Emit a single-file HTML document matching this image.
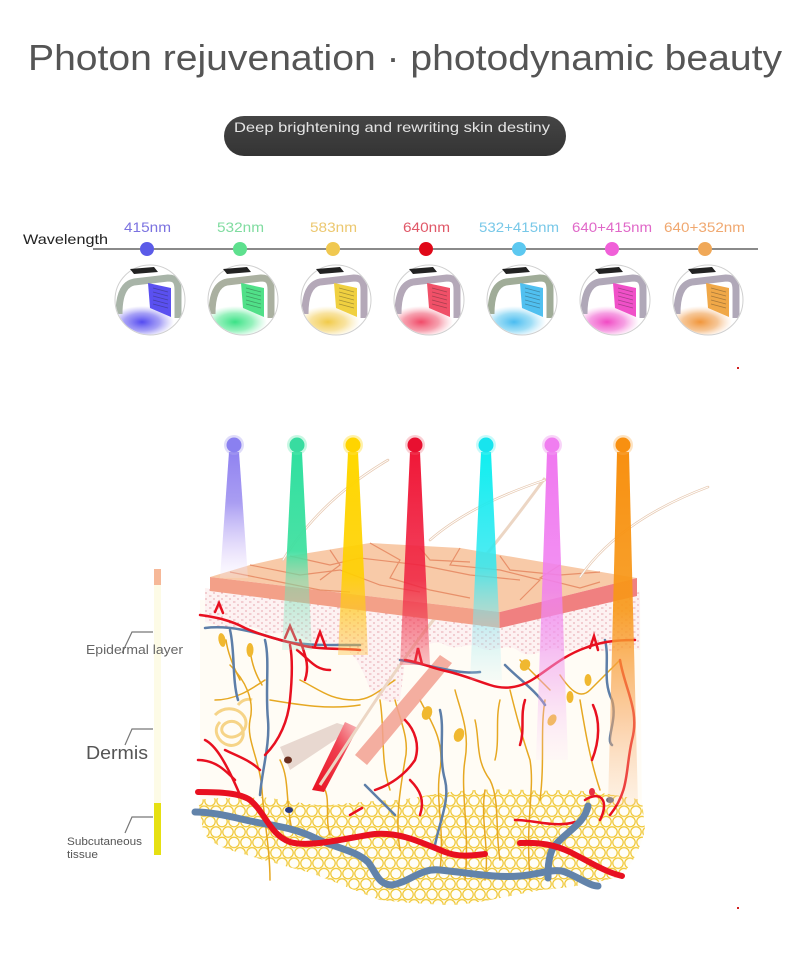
<!DOCTYPE html>
<html><head><meta charset="utf-8"><style>
html,body{margin:0;padding:0;background:#fff;}
svg{display:block;}
text{font-family:"Liberation Sans","DejaVu Sans",sans-serif;}
</style></head><body>
<svg width="790" height="973" viewBox="0 0 790 973" xmlns="http://www.w3.org/2000/svg">
<defs>
<clipPath id="cc" clipPathUnits="userSpaceOnUse"><circle cx="0" cy="0" r="34.5"/></clipPath>
<linearGradient id="pill" x1="0" y1="0" x2="0" y2="1"><stop offset="0" stop-color="#454545"/><stop offset="1" stop-color="#343434"/></linearGradient>
<radialGradient id="gB"><stop offset="0" stop-color="#4a40f0" stop-opacity=".95"/><stop offset=".55" stop-color="#6a60f0" stop-opacity=".6"/><stop offset="1" stop-color="#8a80f0" stop-opacity="0"/></radialGradient>
<radialGradient id="gG"><stop offset="0" stop-color="#30e080" stop-opacity=".95"/><stop offset=".55" stop-color="#50e890" stop-opacity=".6"/><stop offset="1" stop-color="#80f0b0" stop-opacity="0"/></radialGradient>
<radialGradient id="gY"><stop offset="0" stop-color="#f0c840" stop-opacity=".95"/><stop offset=".55" stop-color="#f4d060" stop-opacity=".6"/><stop offset="1" stop-color="#f8e090" stop-opacity="0"/></radialGradient>
<radialGradient id="gR"><stop offset="0" stop-color="#f04060" stop-opacity=".95"/><stop offset=".55" stop-color="#f06078" stop-opacity=".6"/><stop offset="1" stop-color="#f890a0" stop-opacity="0"/></radialGradient>
<radialGradient id="gC"><stop offset="0" stop-color="#40b8f0" stop-opacity=".95"/><stop offset=".55" stop-color="#60c8f0" stop-opacity=".6"/><stop offset="1" stop-color="#90d8f8" stop-opacity="0"/></radialGradient>
<radialGradient id="gP"><stop offset="0" stop-color="#f040c0" stop-opacity=".95"/><stop offset=".55" stop-color="#f060d0" stop-opacity=".6"/><stop offset="1" stop-color="#f890e0" stop-opacity="0"/></radialGradient>
<radialGradient id="gO"><stop offset="0" stop-color="#f09030" stop-opacity=".95"/><stop offset=".55" stop-color="#f0a050" stop-opacity=".6"/><stop offset="1" stop-color="#f8c090" stop-opacity="0"/></radialGradient>

<linearGradient id="b1" x1="0" y1="0" x2="0" y2="1"><stop offset="0" stop-color="#8a7cf0" stop-opacity=".95"/><stop offset=".4" stop-color="#9a8cf0" stop-opacity=".85"/><stop offset=".8" stop-color="#e0d4fa" stop-opacity=".6"/><stop offset="1" stop-color="#f0e8fc" stop-opacity=".2"/></linearGradient>
<linearGradient id="b2" x1="0" y1="0" x2="0" y2="1"><stop offset="0" stop-color="#30e0a0"/><stop offset=".5" stop-color="#40e0a0" stop-opacity=".95"/><stop offset=".65" stop-color="#70e0b0" stop-opacity=".55"/><stop offset="1" stop-color="#a0e8d0" stop-opacity=".25"/></linearGradient>
<linearGradient id="b3" x1="0" y1="0" x2="0" y2="1"><stop offset="0" stop-color="#ffd800"/><stop offset=".6" stop-color="#ffd000" stop-opacity=".9"/><stop offset="1" stop-color="#ffc040" stop-opacity=".4"/></linearGradient>
<linearGradient id="b4" x1="0" y1="0" x2="0" y2="1"><stop offset="0" stop-color="#f01838"/><stop offset=".6" stop-color="#f02040" stop-opacity=".85"/><stop offset="1" stop-color="#f05060" stop-opacity=".35"/></linearGradient>
<linearGradient id="b5" x1="0" y1="0" x2="0" y2="1"><stop offset="0" stop-color="#10eef0"/><stop offset=".5" stop-color="#30e8f0" stop-opacity=".85"/><stop offset=".8" stop-color="#90e8f0" stop-opacity=".4"/><stop offset="1" stop-color="#c0f0f8" stop-opacity=".15"/></linearGradient>
<linearGradient id="b6" x1="0" y1="0" x2="0" y2="1"><stop offset="0" stop-color="#f078f0"/><stop offset=".45" stop-color="#f080f0" stop-opacity=".85"/><stop offset=".75" stop-color="#f0a0f0" stop-opacity=".45"/><stop offset="1" stop-color="#f8d0f8" stop-opacity=".1"/></linearGradient>
<linearGradient id="b7" x1="0" y1="0" x2="0" y2="1"><stop offset="0" stop-color="#f89010"/><stop offset=".45" stop-color="#f89818" stop-opacity=".9"/><stop offset=".75" stop-color="#f8a860" stop-opacity=".55"/><stop offset="1" stop-color="#f8c8a0" stop-opacity=".2"/></linearGradient>
<linearGradient id="root" x1="0" y1="1" x2="1" y2="0"><stop offset="0" stop-color="#e81020"/><stop offset=".6" stop-color="#f04050"/><stop offset="1" stop-color="#f8c0c0"/></linearGradient>

<pattern id="dots" width="8" height="6" patternUnits="userSpaceOnUse"><rect width="8" height="6" fill="#fdf2f2"/><path d="M1 2 h2.5 M5 5 h2" stroke="#e8a8b0" stroke-width="1"/></pattern>
<pattern id="fat" width="12" height="20.8" patternUnits="userSpaceOnUse"><rect width="12" height="20.8" fill="#fffdf0"/><g fill="#fffef8" stroke="#f0c630" stroke-width="1.2"><circle cx="0" cy="0" r="5.2"/><circle cx="12" cy="0" r="5.2"/><circle cx="6" cy="10.4" r="5.2"/><circle cx="0" cy="20.8" r="5.2"/><circle cx="12" cy="20.8" r="5.2"/></g></pattern>
</defs>

<rect width="790" height="973" fill="#fff"/>

<!-- Title -->
<text x="28" y="70" font-size="36" fill="#555" textLength="754" lengthAdjust="spacingAndGlyphs">Photon rejuvenation · photodynamic beauty</text>

<!-- pill -->
<rect x="224" y="116" width="342" height="40" rx="20" fill="url(#pill)"/>
<text x="234" y="132" font-size="14" fill="#e4e4e4" textLength="316" lengthAdjust="spacingAndGlyphs">Deep brightening and rewriting skin destiny</text>

<!-- Wavelength row -->
<text x="23" y="244" font-size="14" fill="#222" textLength="85" lengthAdjust="spacingAndGlyphs">Wavelength</text>
<line x1="93" y1="249" x2="758" y2="249" stroke="#444" stroke-width="1.2"/>
<g font-size="14">
<text x="124" y="232" fill="#7b72e0" textLength="47" lengthAdjust="spacingAndGlyphs">415nm</text>
<text x="217" y="232" fill="#80dca0" textLength="47" lengthAdjust="spacingAndGlyphs">532nm</text>
<text x="310" y="232" fill="#ecc870" textLength="47" lengthAdjust="spacingAndGlyphs">583nm</text>
<text x="403" y="232" fill="#e05868" textLength="47" lengthAdjust="spacingAndGlyphs">640nm</text>
<text x="479" y="232" fill="#78c8e8" textLength="80" lengthAdjust="spacingAndGlyphs">532+415nm</text>
<text x="572" y="232" fill="#e068c8" textLength="80" lengthAdjust="spacingAndGlyphs">640+415nm</text>
<text x="664" y="232" fill="#f0a870" textLength="81" lengthAdjust="spacingAndGlyphs">640+352nm</text>
</g>
<circle cx="147" cy="249" r="7" fill="#5b5be8"/>
<circle cx="240" cy="249" r="7" fill="#5ee08e"/>
<circle cx="333" cy="249" r="7" fill="#f0c850"/>
<circle cx="426" cy="249" r="7" fill="#e00818"/>
<circle cx="519" cy="249" r="7" fill="#5cc8f0"/>
<circle cx="612" cy="249" r="7" fill="#f060d8"/>
<circle cx="705" cy="249" r="7" fill="#f0a858"/>

<!-- devices -->
<g transform="translate(150,300)">
<circle r="35" fill="#fff" stroke="#d0d0d0"/>
<g clip-path="url(#cc)">
<ellipse cx="-8" cy="22" rx="32" ry="16" fill="url(#gB)"/>
<path d="M-31 14 C-31 -6 -26 -16 -16 -18 L18 -22 C26 -22 28 -18 28 -10 L28 18" fill="none" stroke="#a8b4a8" stroke-width="7" stroke-linejoin="round"/>
<polygon points="-2,-17 21,-12 21,17 0,8" fill="#5a50f0"/>
<path d="M3 -12 L18 -8 M3 -8 L18 -4 M3 -4 L18 0 M3 0 L18 4 M3 4 L18 8" stroke="#222" stroke-opacity=".35" stroke-width=".8"/>
</g>
<path d="M-20 -31 L4 -33 L8 -28 L-16 -26 Z" fill="#222"/>
</g>
<g transform="translate(243,300)">
<circle r="35" fill="#fff" stroke="#d0d0d0"/>
<g clip-path="url(#cc)">
<ellipse cx="-8" cy="22" rx="32" ry="16" fill="url(#gG)"/>
<path d="M-31 14 C-31 -6 -26 -16 -16 -18 L18 -22 C26 -22 28 -18 28 -10 L28 18" fill="none" stroke="#aab0a0" stroke-width="7" stroke-linejoin="round"/>
<polygon points="-2,-17 21,-12 21,17 0,8" fill="#50e088"/>
<path d="M3 -12 L18 -8 M3 -8 L18 -4 M3 -4 L18 0 M3 0 L18 4 M3 4 L18 8" stroke="#222" stroke-opacity=".35" stroke-width=".8"/>
</g>
<path d="M-20 -31 L4 -33 L8 -28 L-16 -26 Z" fill="#222"/>
</g>
<g transform="translate(336,300)">
<circle r="35" fill="#fff" stroke="#d0d0d0"/>
<g clip-path="url(#cc)">
<ellipse cx="-8" cy="22" rx="32" ry="16" fill="url(#gY)"/>
<path d="M-31 14 C-31 -6 -26 -16 -16 -18 L18 -22 C26 -22 28 -18 28 -10 L28 18" fill="none" stroke="#b4a8b8" stroke-width="7" stroke-linejoin="round"/>
<polygon points="-2,-17 21,-12 21,17 0,8" fill="#f0d040"/>
<path d="M3 -12 L18 -8 M3 -8 L18 -4 M3 -4 L18 0 M3 0 L18 4 M3 4 L18 8" stroke="#222" stroke-opacity=".35" stroke-width=".8"/>
</g>
<path d="M-20 -31 L4 -33 L8 -28 L-16 -26 Z" fill="#222"/>
</g>
<g transform="translate(429,300)">
<circle r="35" fill="#fff" stroke="#d0d0d0"/>
<g clip-path="url(#cc)">
<ellipse cx="-8" cy="22" rx="32" ry="16" fill="url(#gR)"/>
<path d="M-31 14 C-31 -6 -26 -16 -16 -18 L18 -22 C26 -22 28 -18 28 -10 L28 18" fill="none" stroke="#b4a8b8" stroke-width="7" stroke-linejoin="round"/>
<polygon points="-2,-17 21,-12 21,17 0,8" fill="#f05068"/>
<path d="M3 -12 L18 -8 M3 -8 L18 -4 M3 -4 L18 0 M3 0 L18 4 M3 4 L18 8" stroke="#222" stroke-opacity=".35" stroke-width=".8"/>
</g>
<path d="M-20 -31 L4 -33 L8 -28 L-16 -26 Z" fill="#222"/>
</g>
<g transform="translate(522,300)">
<circle r="35" fill="#fff" stroke="#d0d0d0"/>
<g clip-path="url(#cc)">
<ellipse cx="-8" cy="22" rx="32" ry="16" fill="url(#gC)"/>
<path d="M-31 14 C-31 -6 -26 -16 -16 -18 L18 -22 C26 -22 28 -18 28 -10 L28 18" fill="none" stroke="#a0ac98" stroke-width="7" stroke-linejoin="round"/>
<polygon points="-2,-17 21,-12 21,17 0,8" fill="#50c0f0"/>
<path d="M3 -12 L18 -8 M3 -8 L18 -4 M3 -4 L18 0 M3 0 L18 4 M3 4 L18 8" stroke="#222" stroke-opacity=".35" stroke-width=".8"/>
</g>
<path d="M-20 -31 L4 -33 L8 -28 L-16 -26 Z" fill="#222"/>
</g>
<g transform="translate(615,300)">
<circle r="35" fill="#fff" stroke="#d0d0d0"/>
<g clip-path="url(#cc)">
<ellipse cx="-8" cy="22" rx="32" ry="16" fill="url(#gP)"/>
<path d="M-31 14 C-31 -6 -26 -16 -16 -18 L18 -22 C26 -22 28 -18 28 -10 L28 18" fill="none" stroke="#b0a8b8" stroke-width="7" stroke-linejoin="round"/>
<polygon points="-2,-17 21,-12 21,17 0,8" fill="#f050c8"/>
<path d="M3 -12 L18 -8 M3 -8 L18 -4 M3 -4 L18 0 M3 0 L18 4 M3 4 L18 8" stroke="#222" stroke-opacity=".35" stroke-width=".8"/>
</g>
<path d="M-20 -31 L4 -33 L8 -28 L-16 -26 Z" fill="#222"/>
</g>
<g transform="translate(708,300)">
<circle r="35" fill="#fff" stroke="#d0d0d0"/>
<g clip-path="url(#cc)">
<ellipse cx="-8" cy="22" rx="32" ry="16" fill="url(#gO)"/>
<path d="M-31 14 C-31 -6 -26 -16 -16 -18 L18 -22 C26 -22 28 -18 28 -10 L28 18" fill="none" stroke="#b0a8b8" stroke-width="7" stroke-linejoin="round"/>
<polygon points="-2,-17 21,-12 21,17 0,8" fill="#f0a848"/>
<path d="M3 -12 L18 -8 M3 -8 L18 -4 M3 -4 L18 0 M3 0 L18 4 M3 4 L18 8" stroke="#222" stroke-opacity=".35" stroke-width=".8"/>
</g>
<path d="M-20 -31 L4 -33 L8 -28 L-16 -26 Z" fill="#222"/>
</g>

<!-- tiny red marks -->
<rect x="737" y="367" width="2" height="2" fill="#d02020"/>
<rect x="737" y="907" width="2" height="2" fill="#d02020"/>

<!-- left legend -->
<rect x="154" y="569" width="7" height="16" fill="#f6b898"/>
<rect x="154" y="585" width="7" height="218" fill="#fdfbe6"/>
<rect x="154" y="803" width="7" height="52" fill="#e6e012"/>
<g stroke="#777" stroke-width="1.2" fill="none">
<path d="M153 632 H132 L122 653"/>
<path d="M153 729 H132 L125 745"/>
<path d="M153 817 H132 L125 833"/>
</g>
<text x="86" y="654" font-size="12.5" fill="#666" textLength="97" lengthAdjust="spacingAndGlyphs">Epidermal layer</text>
<text x="86" y="759" font-size="18" fill="#555" textLength="62" lengthAdjust="spacingAndGlyphs">Dermis</text>
<text x="67" y="845" font-size="11" fill="#555" textLength="75" lengthAdjust="spacingAndGlyphs">Subcutaneous</text>
<text x="67" y="858" font-size="11" fill="#555" textLength="31" lengthAdjust="spacingAndGlyphs">tissue</text>

<!-- dermis background -->
<path d="M200 600 L640 590 L642 830 L200 830 Z" fill="#fffcf5"/>

<!-- epidermis dotted -->
<path d="M205 588 L500 626 L640 592 L640 650 C625 645 615 655 600 650 C585 640 575 655 560 650 C545 645 535 660 520 652 C505 640 495 655 480 648 C470 640 460 652 445 645 C430 636 415 655 405 660 L400 700 C390 705 380 700 370 690 C360 660 350 650 340 645 C325 640 315 648 300 635 C285 625 275 640 260 630 C245 622 230 632 215 625 L205 622 Z" fill="url(#dots)"/>

<!-- fat -->
<path d="M198 800 C220 796 240 800 260 797 C290 800 310 806 330 805 C360 802 380 800 400 800 C430 795 455 790 480 790 C520 788 540 792 560 790 C590 790 615 795 642 800 L645 830 C640 850 630 868 620 876 C590 885 565 888 540 890 C500 898 470 905 450 905 C420 904 400 902 380 900 C340 885 320 875 300 870 C270 862 250 856 230 850 C215 845 205 838 203 830 Z" fill="url(#fat)"/>

<!-- coiled gland -->
<path d="M215 715 C225 705 240 708 245 718 C250 730 235 742 225 735 C215 728 230 715 240 725 C248 735 240 748 228 745 C218 742 212 730 220 722 M238 705 C242 700 248 698 252 700" fill="none" stroke="#f6d488" stroke-width="3"/>

<!-- nerves -->
<g fill="none" stroke="#e6a822" stroke-width="1.5" stroke-linecap="round">
<path d="M230 665 C245 680 255 700 250 720 C246 740 260 760 262 790 C264 820 270 850 270 880"/>
<path d="M215 700 C235 700 250 690 265 680"/>
<path d="M300 680 C320 690 330 700 355 700 C370 700 380 690 395 680"/>
<path d="M270 700 C300 705 330 710 360 705"/>
<path d="M395 700 C400 720 410 740 405 760 C400 790 395 820 400 850"/>
<path d="M420 700 C430 720 445 740 440 770 C435 800 445 830 440 870"/>
<path d="M455 690 C460 710 470 730 465 760 C460 790 470 830 465 880"/>
<path d="M475 720 C480 740 475 760 490 780 C500 800 495 830 500 860"/>
<path d="M500 700 C495 720 500 740 495 760"/>
<path d="M510 690 C515 710 520 730 530 760 C535 790 525 820 530 880"/>
<path d="M520 660 C530 670 540 680 550 690"/>
<path d="M560 675 C570 690 580 700 590 690 C600 680 610 670 620 660"/>
<path d="M545 700 C540 730 545 760 540 800"/>
<path d="M280 760 C290 780 285 800 292 830"/>
<path d="M325 790 C330 800 325 820 330 835"/>
<path d="M226 640 C228 655 235 670 240 680"/>
<path d="M250 650 C252 665 256 675 262 685"/>
<path d="M380 700 C385 730 380 760 390 790"/>
<path d="M580 700 C585 730 590 760 600 790"/>
<path d="M485 790 C480 820 490 850 485 880"/>
</g>
<g fill="#f0b830">
<ellipse cx="222" cy="640" rx="3.5" ry="7" transform="rotate(-10 222 640)"/>
<ellipse cx="250" cy="650" rx="3.5" ry="7"/>
<ellipse cx="427" cy="713" rx="5" ry="7" transform="rotate(20 427 713)"/>
<ellipse cx="459" cy="735" rx="5" ry="7" transform="rotate(20 459 735)"/>
<ellipse cx="525" cy="665" rx="5" ry="6" transform="rotate(30 525 665)"/>
<ellipse cx="588" cy="680" rx="3.5" ry="6"/>
<ellipse cx="570" cy="697" rx="3.5" ry="6"/>
<ellipse cx="552" cy="720" rx="4" ry="6" transform="rotate(30 552 720)"/>
</g>

<!-- follicle -->
<polygon points="355,755 440,655 452,663 367,765" fill="#f2a090" opacity=".85"/>
<polygon points="280,747 337,723 353,728 290,770" fill="#e8d8d0"/>
<ellipse cx="288" cy="760" rx="4" ry="3.5" fill="#6a3020"/>
<polygon points="312,790 345,722 358,728 324,792" fill="url(#root)"/>
<path d="M320 785 C350 740 400 660 440 612 C465 580 500 540 545 478" fill="none" stroke="#ecd6c4" stroke-width="3"/>

<!-- thin blue -->
<g fill="none" stroke="#5d7ea8" stroke-width="2.5" stroke-linecap="round">
<path d="M205 628 C230 625 255 632 280 640 C300 646 330 645 360 645"/>
<path d="M265 640 C270 660 265 690 268 720 C270 745 262 770 260 795"/>
<path d="M400 660 C430 665 460 675 480 672"/>
<path d="M440 710 C445 730 438 755 445 780 C450 800 440 820 435 845"/>
<path d="M605 640 C610 660 602 680 612 700 C618 720 605 740 612 745"/>
<path d="M365 785 C375 795 385 805 395 815"/>
<path d="M505 665 C520 680 535 690 545 705"/>
<path d="M230 630 C235 650 232 680 238 700"/>
</g>
<!-- thin red -->
<g fill="none" stroke="#e81020" stroke-width="2.5" stroke-linecap="round">
<path d="M200 615 C215 617 230 620 245 628 C260 635 280 640 300 645 C320 650 340 648 360 650"/>
<path d="M215 612 L219 603 L223 613"/>
<path d="M285 638 L290 626 L296 640"/>
<path d="M315 646 L320 632 L326 648"/>
<path d="M290 645 C293 660 292 680 290 700 C288 720 280 740 265 755"/>
<path d="M300 640 C305 655 310 665 305 680"/>
<path d="M297 650 C310 660 315 670 330 670"/>
<path d="M198 760 C215 760 225 770 235 780"/>
<path d="M205 740 C215 745 225 760 240 795"/>
<path d="M225 750 C235 755 250 760 260 770"/>
<path d="M405 660 C420 662 430 668 450 672 C465 676 475 680 490 685 C505 690 520 688 535 678 C550 668 565 655 585 648 C600 642 615 640 635 640"/>
<path d="M415 662 L418 648 L422 664"/>
<path d="M590 648 L594 636 L598 650"/>
<path d="M515 820 C535 820 555 828 575 822"/>
<path d="M525 700 C520 715 525 730 520 745"/>
<path d="M620 660 C625 690 640 710 632 740 C625 770 630 790 610 815"/>
<path d="M375 790 C390 785 405 775 415 760 C420 745 415 730 405 720"/>
<path d="M410 780 C420 790 425 800 420 815"/>
<path d="M593 705 C600 720 600 740 592 760"/>
<path d="M350 815 L362 808"/>
<path d="M600 820 C610 800 600 790 585 800"/>
</g>
<!-- thick vessels -->
<path d="M195 812 C215 812 235 818 255 822 C275 826 295 828 315 838 C335 848 355 850 368 862 C376 872 378 885 392 885 C410 882 420 868 440 870 C470 873 495 878 520 876 C540 874 555 868 565 872 C580 878 590 886 598 886" fill="none" stroke="#6283aa" stroke-width="7" stroke-linecap="round"/>
<path d="M588 806 C585 825 560 835 552 850 C548 860 548 870 548 878" fill="none" stroke="#6283aa" stroke-width="7" stroke-linecap="round"/>
<path d="M198 792 C220 792 240 793 250 800 C265 812 270 835 290 842 C310 848 345 838 375 834 C400 832 420 842 445 852 C460 858 475 855 485 854" fill="none" stroke="#e81020" stroke-width="6" stroke-linecap="round"/>
<path d="M520 843 C540 842 555 845 570 852 C590 862 605 872 622 876" fill="none" stroke="#e81020" stroke-width="6" stroke-linecap="round"/>
<ellipse cx="289" cy="810" rx="4" ry="3" fill="#2a3a80"/>
<ellipse cx="592" cy="792" rx="3" ry="4" fill="#e83040"/>
<ellipse cx="610" cy="800" rx="4" ry="3" fill="#707080"/>

<!-- slab -->
<polygon points="210,577 250,565 290,556 370,543 460,548 560,565 637,578 500,612" fill="#f8caa8"/>
<polygon points="210,577 500,612 500,628 210,591" fill="#f3a088"/>
<polygon points="500,612 637,578 637,596 500,628" fill="#f08080"/>
<g fill="none" stroke="#e8906a" stroke-width="1.2">
<path d="M250 565 L300 575 L340 570 L380 585 L420 592"/>
<path d="M290 556 L330 565 L360 558 L420 565 L470 575 L520 580"/>
<path d="M370 543 L400 560 L390 578 L430 590 L470 598"/>
<path d="M460 548 L450 565 L500 570 L540 580 L520 600"/>
<path d="M560 565 L540 578 L580 588 L600 582"/>
<path d="M230 572 L270 580 L320 590 L350 592"/>
<path d="M330 550 L340 565 L320 580"/>
<path d="M500 556 L510 570 L560 575 L600 572"/>
<path d="M420 548 L430 560 L470 562"/>
</g>

<!-- hairs -->
<g fill="none" stroke="#e6c8b0" stroke-width="2.5" stroke-linecap="round">
<path d="M283 560 Q320 500 388 460"/>
<path d="M430 540 Q470 505 545 480"/>
<path d="M580 577 Q620 520 708 487"/>
</g>
<g fill="none" stroke="#fff" stroke-width="1" stroke-linecap="round">
<path d="M283 560 Q320 500 388 460"/>
<path d="M430 540 Q470 505 545 480"/>
<path d="M580 577 Q620 520 708 487"/>
</g>

<!-- beams -->
<polygon points="229,452 239,452 248,578 220,578" fill="url(#b1)"/>
<polygon points="292,452 302,452 312,650 282,650" fill="url(#b2)"/>
<polygon points="348,452 358,452 368,655 338,655" fill="url(#b3)"/>
<polygon points="410,452 420,452 430,665 400,665" fill="url(#b4)"/>
<polygon points="481,452 491,452 502,680 470,680" fill="url(#b5)"/>
<polygon points="547,452 557,452 568,760 536,760" fill="url(#b6)"/>
<polygon points="617,452 629,452 638,805 608,805" fill="url(#b7)"/>

<!-- beam dots -->
<g>
<circle cx="234" cy="445" r="10" fill="#b0a8f0" opacity=".4"/><circle cx="234" cy="445" r="7.5" fill="#8a80f0"/>
<circle cx="297" cy="445" r="10" fill="#60e8b0" opacity=".35"/><circle cx="297" cy="445" r="7.5" fill="#38dca0"/>
<circle cx="353" cy="445" r="10" fill="#ffe040" opacity=".45"/><circle cx="353" cy="445" r="7.5" fill="#ffd400"/>
<circle cx="415" cy="445" r="10" fill="#f06070" opacity=".3"/><circle cx="415" cy="445" r="7.5" fill="#e81030"/>
<circle cx="486" cy="445" r="10" fill="#60f0f0" opacity=".35"/><circle cx="486" cy="445" r="7.5" fill="#18e4ee"/>
<circle cx="552" cy="445" r="10" fill="#f0a0f0" opacity=".45"/><circle cx="552" cy="445" r="7.5" fill="#f07ef0"/>
<circle cx="623" cy="445" r="10" fill="#f8b050" opacity=".35"/><circle cx="623" cy="445" r="7.5" fill="#f89010"/>
</g>
</svg>
</body></html>
